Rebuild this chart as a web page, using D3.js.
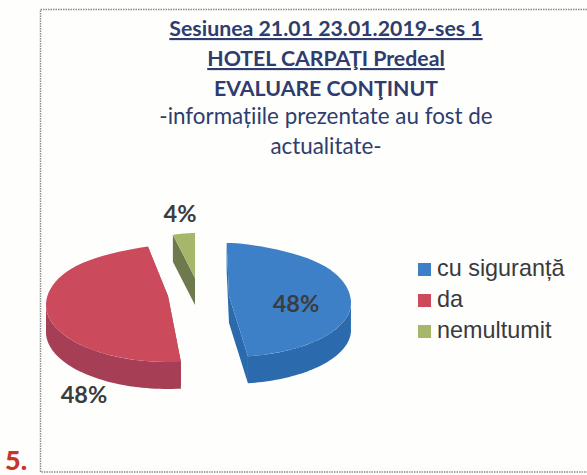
<!DOCTYPE html>
<html><head><meta charset="utf-8">
<script src="https://cdn.jsdelivr.net/npm/d3@7"></script>
<style>html,body{margin:0;padding:0;background:#fefefd}svg{display:block}</style>
</head><body><svg id="c" width="587" height="475"></svg>
<script>
const categories = ["cu siguranță", "da", "nemultumit"];
const values = [48, 48, 4];
const valueLabels = ["48%", "48%", "4%"];
const titleLines = ["Sesiunea 21.01 23.01.2019-ses 1", "HOTEL CARPAŢI Predeal", "EVALUARE CONŢINUT", "-informațiile prezentate au fost de", "actualitate-"];

const topColors = ["#3d80c8", "#cb4a5c", "#a5b86a"];
const sideColors = ["#2a6aad", "#a63f55", "#6e7a4e"];
const svg = d3.select("#c");
const rx = 122, depth = 27;
// layout of the exploded wedges: apex, ellipse centre, radii, tilt
const layout = [
  {ax: 229, ay: 296, cx: 229, cy: 303, rt: 60, rb: 54, tilt: -0.03},
  {ax: 168, ay: 296, cx: 168, cy: 305, rt: 60, rb: 57, tilt: 0.02},
  {ax: 195, ay: 278, cx: 195, cy: 290, rt: 57, rb: 54, tilt: 0}
];
const line = d3.line();
svg.append("path").attr("d", line([[587, 9.5], [40.5, 9.5], [40.5, 472], [587, 472]]))
  .attr("fill", "none").attr("stroke", "#8a8a8a").attr("stroke-width", 1.5).attr("stroke-dasharray", "1.5 1");

const arcs = d3.pie().sort(null)(values);
function proj(l, a0) {
  const a = a0 + l.tilt, c = Math.cos(a);
  const narrow = 1 - 0.35 * Math.pow(Math.max(0, c), 8);
  return [l.cx + rx * Math.sin(a) * narrow, l.cy - (c > 0 ? l.rt : l.rb) * c];
}
function sweep(l, a0, a1) {
  const n = 48;
  return d3.range(n + 1).map(i => proj(l, a0 + (a1 - a0) * i / n));
}
const down = p => [p[0], p[1] + depth];
arcs.forEach((d, i) => {
  const l = layout[i], g = svg.append("g"), apex = [l.ax, l.ay];
  const a0 = d.startAngle, a1 = d.endAngle;
  [a0, a1].forEach(a => {
    const p = proj(l, a);
    g.append("path").attr("d", line([apex, p, down(p), down(apex)]) + "Z").attr("fill", sideColors[i]);
  });
  const f0 = Math.max(a0, Math.PI / 2), f1 = Math.min(a1, 3 * Math.PI / 2);
  if (f1 > f0) {
    const top = sweep(l, f0, f1);
    g.append("path").attr("d", line(top.concat(top.map(down).reverse())) + "Z").attr("fill", sideColors[i]);
  }
  g.append("path").attr("d", line([apex].concat(sweep(l, a0, a1))) + "Z").attr("fill", topColors[i]);
});

const labelPos = [[296, 312], [84, 403], [180, 222]];
svg.selectAll(".v").data(valueLabels).join("text").attr("class", "v")
  .attr("x", (d, i) => labelPos[i][0]).attr("y", (d, i) => labelPos[i][1])
  .attr("text-anchor", "middle").attr("font-family", "Lato").attr("font-weight", 700)
  .attr("font-size", 23.5).attr("fill", "#3a3d3f").text(d => d);

const titleY = [36, 66, 96, 124, 154];
svg.selectAll(".t").data(titleLines).join("text").attr("class", "t")
  .attr("x", 326).attr("y", (d, i) => titleY[i]).attr("text-anchor", "middle")
  .attr("font-family", "Lato").attr("font-size", (d, i) => i < 3 ? 21.3 : 22.4)
  .attr("font-weight", (d, i) => i < 3 ? 700 : 400).attr("fill", "#2f3c6e")
  .attr("text-decoration", (d, i) => i < 2 ? "underline" : "none").text(d => d);

const lg = svg.selectAll(".l").data(categories).join("g").attr("class", "l")
  .attr("transform", (d, i) => `translate(418,${276 + i * 31})`);
lg.append("rect").attr("y", -13).attr("width", 13).attr("height", 13).attr("fill", (d, i) => topColors[i]);
lg.append("text").attr("x", 19).attr("font-family", "Liberation Sans").attr("font-size", 23.4)
  .attr("fill", "#3a3a3c").text(d => d);

svg.append("text").attr("x", 5).attr("y", 470).attr("font-family", "Lato").attr("font-weight", 900)
  .attr("font-size", 27).attr("fill", "#c8352a").text("5.");
</script></body></html>
